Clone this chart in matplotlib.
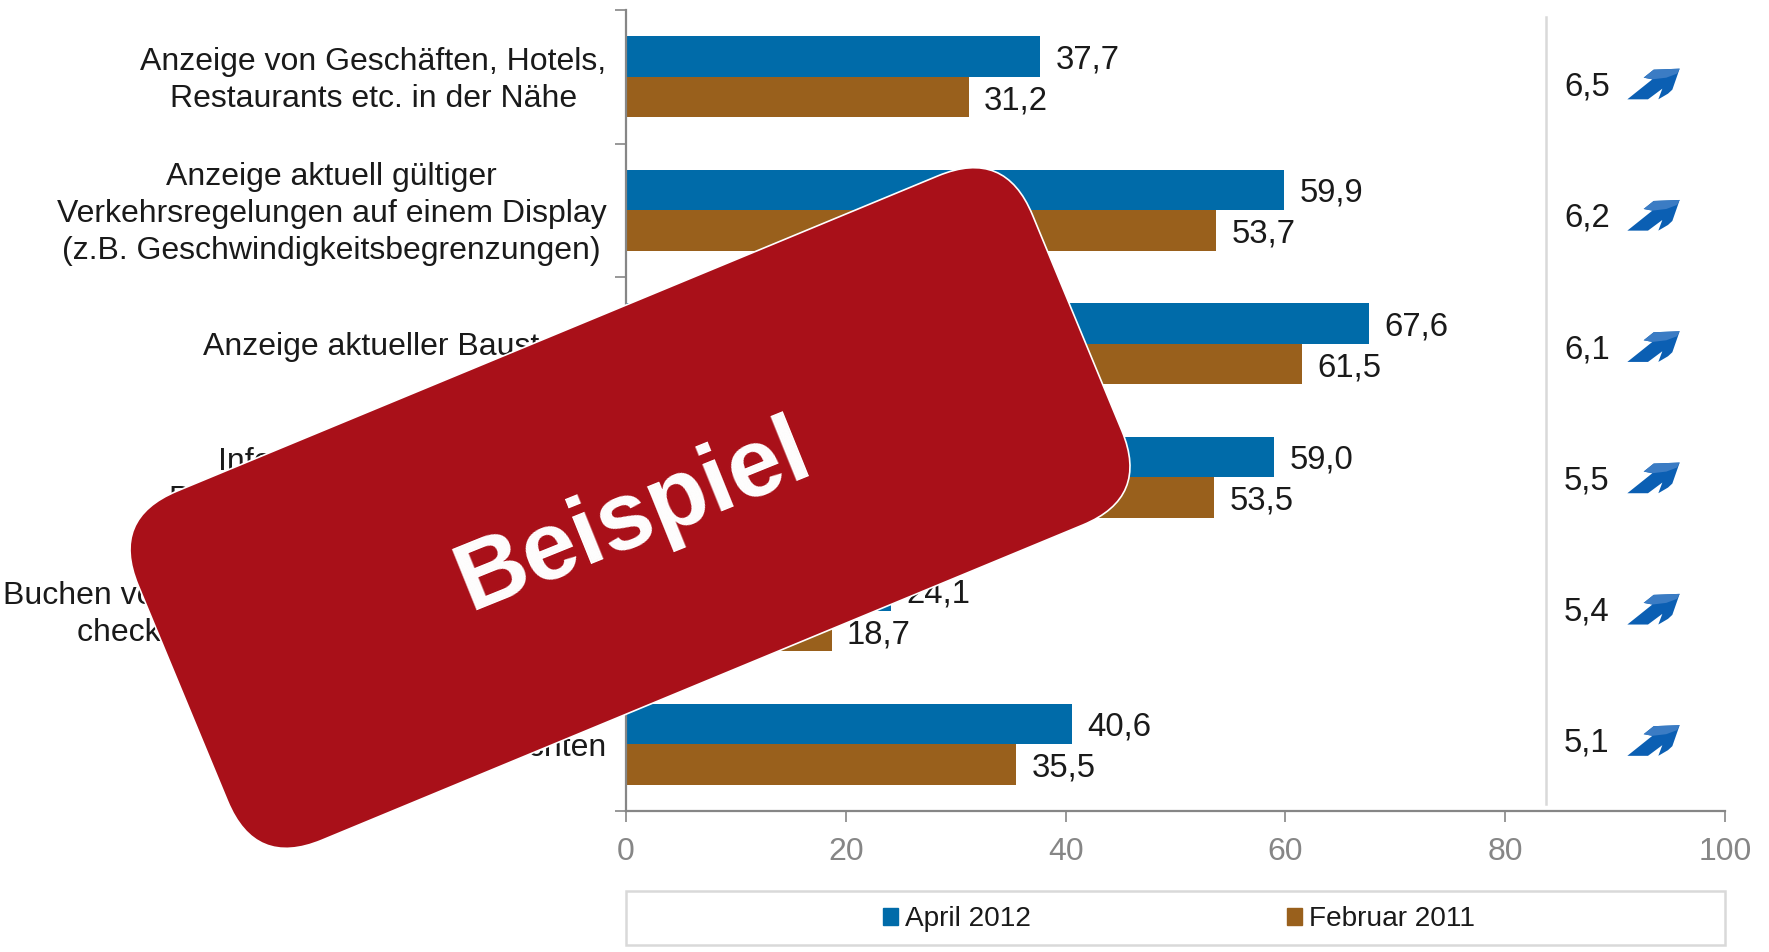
from matplotlib import pyplot as plt
from matplotlib.patches import FancyBboxPatch, Polygon, Rectangle
from matplotlib.transforms import Affine2D, ScaledTranslation

plt.rcParams['font.family'] = ['Liberation Sans', 'DejaVu Sans']

W, H = 1769, 952

categories = [
    "Anzeige von Geschäften, Hotels,\nRestaurants etc. in der Nähe",
    "Anzeige aktuell gültiger\nVerkehrsregelungen auf einem Display\n(z.B. Geschwindigkeitsbegrenzungen)",
    "Anzeige aktueller Baustellen",
    "Informationen über freie\nParkplätze rund um den Zielort",
    "Buchen von Hotels, Mietwagen und Zügen\ncheck-in für Flüge aus dem Pkw",
    "Abruf von Wetterberichten",
]
april_2012 = [37.7, 59.9, 67.6, 59.0, 24.1, 40.6]
februar_2011 = [31.2, 53.7, 61.5, 53.5, 18.7, 35.5]
differenz = ["6,5", "6,2", "6,1", "5,5", "5,4", "5,1"]
xticks = [0, 20, 40, 60, 80, 100]

BLUE = '#006BA9'
BROWN = '#99601C'
GREY = '#868686'
LIGHT = '#D9D9D9'
TEXT = '#1A1A1A'
RED = '#A91019'
FS = 23


def label_bars(ys, values):
    for y, v in zip(ys, values):
        ax.annotate('{:.1f}'.format(v).replace('.', ','), (v, y), xytext=(11, -2.5),
                    textcoords='offset points', va='center', ha='left', fontsize=23.7, color=TEXT)


fig = plt.figure(figsize=(W / 100, H / 100), dpi=100)
ax = fig.add_axes([626 / W, 1 - 811 / H, (1725 - 626) / W, (811 - 10) / H])

pos = list(range(len(categories)))
bar_h = 0.304
ax.barh([p - bar_h / 2 for p in pos], april_2012, bar_h, color=BLUE)
ax.barh([p + bar_h / 2 for p in pos], februar_2011, bar_h, color=BROWN)
label_bars([p - bar_h / 2 for p in pos], april_2012)
label_bars([p + bar_h / 2 for p in pos], februar_2011)

ax.set_xlim(0, 100)
ax.set_ylim(5.5, -0.5)
ax.set_xticks(xticks)
ax.tick_params(axis='x', length=8, width=1.2, color=GREY, labelcolor=GREY, labelsize=FS, pad=11)

# group boundaries get the tick marks, the names sit between them
ax.set_yticks([p - 0.5 for p in pos] + [5.5])
ax.set_yticklabels([])
ax.tick_params(axis='y', which='major', length=8, width=1.2, color=GREY)
ax.set_yticks(pos, minor=True)
labels = ax.set_yticklabels(categories, minor=True, fontsize=FS, color=TEXT, ha='right',
                            multialignment='center', linespacing=1.32)
ax.tick_params(axis='y', which='minor', length=0, pad=14)

# multi-line names sit a little high in the original
for lab in labels:
    if '\n' in lab.get_text():
        lab.set_transform(lab.get_transform() + ScaledTranslation(0, 3.5 / 100, fig.dpi_scale_trans))

for s in ['top', 'right']:
    ax.spines[s].set_visible(False)
for s in ['left', 'bottom']:
    ax.spines[s].set_color(GREY)
    ax.spines[s].set_linewidth(1.6)

# overlay in reference pixels (y measured from the bottom)
over = fig.add_axes([0, 0, 1, 1])
over.set_xlim(0, W)
over.set_ylim(0, H)
over.axis('off')
over.patch.set_alpha(0)

over.plot([1546, 1546], [H - 17, H - 804], color=LIGHT, lw=1.8)
over.add_patch(Rectangle((626, H - 945), 1099, 54, fc='white', ec=LIGHT, lw=1.8))

handles = [Rectangle((0, 0), 1, 1, color=BLUE), Rectangle((0, 0), 1, 1, color=BROWN)]
over.legend(handles, ['April 2012', 'Februar 2011'], ncol=2, frameon=False, fontsize=20.2,
            loc='center', bbox_to_anchor=(1179 / W, 1 - 919 / H), handlelength=0.55, handleheight=0.55,
            handletextpad=0.25, columnspacing=9.1, labelcolor=TEXT)

arrow = [(323, 177), (385, 177), (428, 145), (416, 177), (445, 160), (458, 148), (480, 85),
         (402, 88), (372, 112), (398, 117)]
arrow_top = [(372, 112), (402, 88), (480, 85), (472, 100), (440, 112), (398, 117)]

for i, d in enumerate(differenz):
    yc = 87 + i * 131.3
    over.text(1564, H - yc, d, fontsize=23.7, color=TEXT, va='center', ha='left')
    xc = 1653
    yi = yc - 3
    over.add_patch(Polygon([(xc + (x - 400) / 3, H - (yi + (y - 131) / 3)) for x, y in arrow],
                           fc='#0B5FB3', ec='none'))
    over.add_patch(Polygon([(xc + (x - 400) / 3, H - (yi + (y - 131) / 3)) for x, y in arrow_top],
                           fc='#3B7CC4', ec='none'))

# the red "Beispiel" stamp
cx, cy = 630, H - 508
bw, bh, rad = 968, 378, 72
rot = Affine2D().rotate_deg_around(cx, cy, 22.5) + over.transData
stamp = FancyBboxPatch((cx - bw / 2 + rad, cy - bh / 2 + rad), bw - 2 * rad, bh - 2 * rad,
                       boxstyle='round,pad={},rounding_size={}'.format(rad, rad),
                       fc=RED, ec='white', lw=1.2, transform=rot, zorder=5)
over.add_patch(stamp)
over.text(cx + 4, cy - 9, 'Beispiel', fontsize=70, fontweight='bold', color='white', rotation=22,
          rotation_mode='anchor', ha='center', va='center', zorder=6)

fig.savefig('out.png', dpi=100)
